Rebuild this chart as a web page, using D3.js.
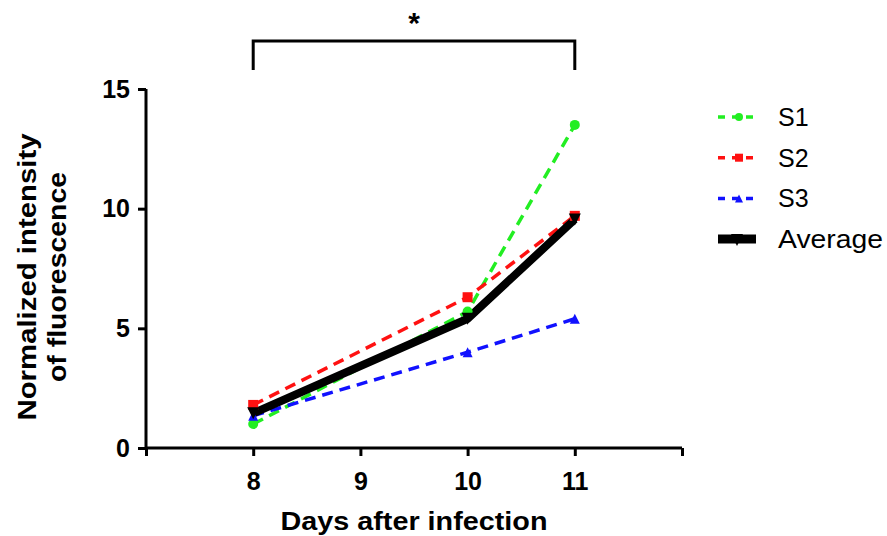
<!DOCTYPE html>
<html>
<head>
<meta charset="utf-8">
<script src="https://cdn.jsdelivr.net/npm/d3@7"></script>
<style>
  body { margin: 0; background: #fff; }
  svg { font-family: Arial, "Liberation Sans", sans-serif; }
</style>
</head>
<body>
<svg></svg>
<script>
 // data
 let days = [8, 10, 11];
 let s1 = [1.0, 5.7, 13.5];
 let s2 = [1.8, 6.3, 9.7];
 let s3 = [1.35, 4.0, 5.4];
 let avg = [1.45, 5.4, 9.55];
 let xTicks = [7, 8, 9, 10, 11, 12];
 let xLabels = [8, 9, 10, 11];
 let yTicks = [0, 5, 10, 15];

 let width = 887;
 let height = 536;

 let svg = d3.select('svg').attr('width', width).attr('height', height);

 let xScale = d3.scaleLinear().domain([7, 12]).range([146, 682]);
 let yScale = d3.scaleLinear().domain([0, 15]).range([448, 89]);

 let series = [
  { name: 'S1', values: s1, color: '#22ee22', marker: 'circle' },
  { name: 'S2', values: s2, color: '#ff1111', marker: 'square' },
  { name: 'S3', values: s3, color: '#1111ff', marker: 'triangle' }
 ];

 // axes
 let xAxis = d3.axisBottom(xScale)
  .tickValues(xTicks)
  .tickSize(8)
  .tickFormat(d => xLabels.includes(d) ? d : '');
 let gx = svg.append('g')
  .attr('transform', `translate(0, ${yScale(0)})`)
  .call(xAxis);
 gx.select('.domain').attr('d', `M${xScale(7)},0H${xScale(12)}`);

 let yAxis = d3.axisLeft(yScale).tickValues(yTicks).tickSize(8);
 let gy = svg.append('g')
  .attr('transform', `translate(${xScale(7)}, 0)`)
  .call(yAxis);
 gy.select('.domain').attr('d', `M0,${yScale(15)}V${yScale(0)}`);

 svg.selectAll('.domain, .tick line')
  .attr('stroke', '#000')
  .attr('stroke-width', 3);
 svg.selectAll('.tick text')
  .attr('font-size', 25)
  .attr('font-weight', 'bold')
  .attr('fill', '#000');
 gx.selectAll('.tick text').attr('y', 42).attr('dy', 0);
 gy.selectAll('.tick text').attr('x', -16);

 // axis titles
 svg.append('text')
  .attr('x', xScale(9.5))
  .attr('y', 530)
  .attr('text-anchor', 'middle')
  .attr('font-size', 26)
  .attr('font-weight', 'bold')
  .attr('textLength', 267)
  .attr('lengthAdjust', 'spacingAndGlyphs')
  .text('Days after infection');

 let yTitle = svg.append('g').attr('transform', `translate(0, 277) rotate(-90)`);
 yTitle.append('text')
  .attr('x', 0).attr('y', 36)
  .attr('text-anchor', 'middle')
  .attr('font-size', 26)
  .attr('font-weight', 'bold')
  .attr('textLength', 287)
  .attr('lengthAdjust', 'spacingAndGlyphs')
  .text('Normalized intensity');
 yTitle.append('text')
  .attr('x', 0).attr('y', 66)
  .attr('text-anchor', 'middle')
  .attr('font-size', 26)
  .attr('font-weight', 'bold')
  .attr('textLength', 210)
  .attr('lengthAdjust', 'spacingAndGlyphs')
  .text('of fluorescence');

 // marker drawing helper
 let drawMarker = (g, type, x, y, color, size) => {
  if (type === 'circle') {
   g.append('circle').attr('cx', x).attr('cy', y).attr('r', size / 2).attr('fill', color);
  } else if (type === 'square') {
   g.append('rect').attr('x', x - size / 2).attr('y', y - size / 2)
    .attr('width', size).attr('height', size).attr('fill', color);
  } else if (type === 'triangle') {
   g.append('path')
    .attr('d', `M${x},${y - size / 2}L${x + size / 2},${y + size / 2}L${x - size / 2},${y + size / 2}Z`)
    .attr('fill', color);
  } else if (type === 'down') {
   g.append('path')
    .attr('d', `M${x},${y + size / 2}L${x + size / 2},${y - size / 2}L${x - size / 2},${y - size / 2}Z`)
    .attr('fill', color);
  }
 };

 let line = d3.line()
  .x((d, i) => xScale(days[i]))
  .y(d => yScale(d));

 // dashed sample lines
 series.forEach(s => {
  svg.append('path')
   .datum(s.values)
   .attr('d', line)
   .attr('fill', 'none')
   .attr('stroke', s.color)
   .attr('stroke-width', 3.5)
   .attr('stroke-dasharray', '11,7');
 });

 // average line
 svg.append('path')
  .datum(avg)
  .attr('d', line)
  .attr('fill', 'none')
  .attr('stroke', '#000')
  .attr('stroke-width', 8)
  .attr('stroke-linejoin', 'miter');

 let markers = svg.append('g');
 series.forEach(s => {
  s.values.forEach((v, i) => {
   drawMarker(markers, s.marker, xScale(days[i]), yScale(v), s.color, 10);
  });
 });
 avg.forEach((v, i) => {
  drawMarker(markers, 'down', xScale(days[i]), yScale(v), '#000', 12);
 });

 // significance bracket
 let bx1 = xScale(8), bx2 = xScale(11);
 svg.append('path')
  .attr('d', `M${bx1},70V41H${bx2}V70`)
  .attr('fill', 'none')
  .attr('stroke', '#000')
  .attr('stroke-width', 3);
 svg.append('text')
  .attr('x', (bx1 + bx2) / 2)
  .attr('y', 33)
  .attr('text-anchor', 'middle')
  .attr('font-size', 30)
  .attr('font-weight', 'bold')
  .text('*');

 // legend
 let legendItems = series.map(s => ({ name: s.name, color: s.color, marker: s.marker, avg: false }))
  .concat([{ name: 'Average', color: '#000', marker: 'down', avg: true }]);
 let legend = svg.append('g');
 legendItems.forEach((d, i) => {
  let y = 117 + i * 40.7;
  let row = legend.append('g');
  if (d.avg) {
   row.append('line').attr('x1', 718).attr('x2', 756).attr('y1', y).attr('y2', y)
    .attr('stroke', '#000').attr('stroke-width', 9);
   drawMarker(row, 'down', 737, y + 1, '#000', 12);
  } else {
   row.append('line').attr('x1', 718).attr('x2', 756).attr('y1', y).attr('y2', y)
    .attr('stroke', d.color).attr('stroke-width', 3.5).attr('stroke-dasharray', '7,7');
   drawMarker(row, d.marker, 739, y, d.color, 8);
  }
  let t = row.append('text')
   .attr('x', 778)
   .attr('y', y)
   .attr('dy', '0.36em')
   .attr('font-size', 25)
   .text(d.name);
  if (d.avg) t.attr('textLength', 105).attr('lengthAdjust', 'spacingAndGlyphs');
 });
</script>
</body>
</html>
